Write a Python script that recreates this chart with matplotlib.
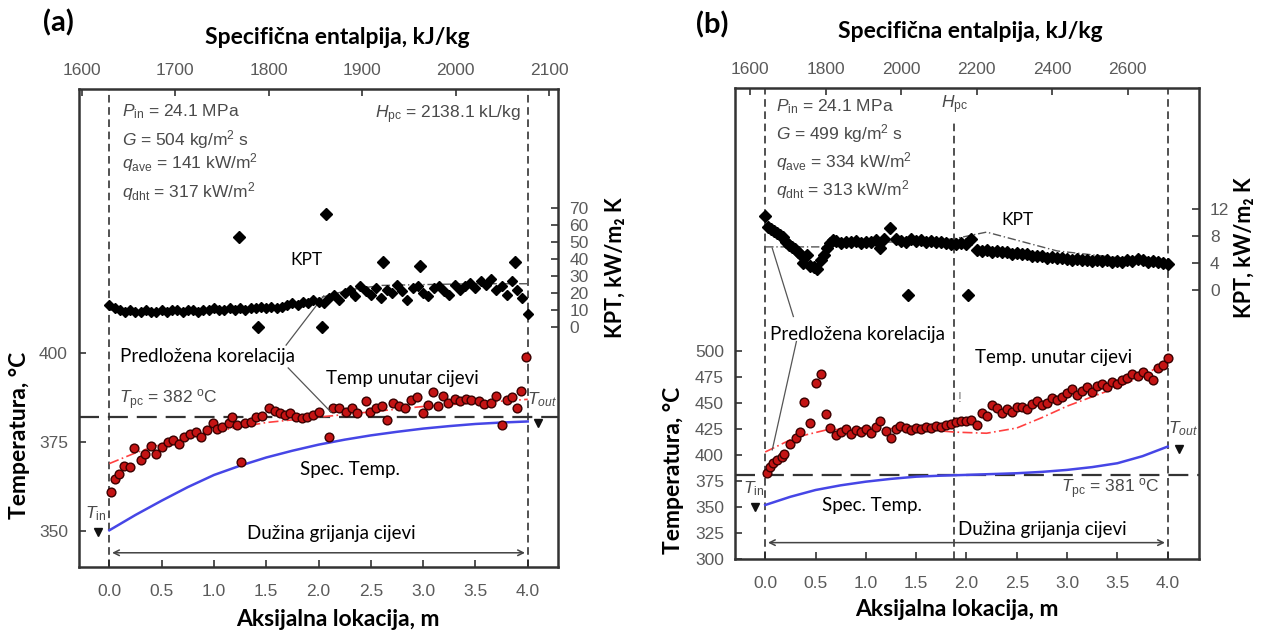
"""
Two-panel plot: wall temperature and KPT along the heated tube, (a) and (b).
"""

import numpy as np
import matplotlib.pyplot as plt

plt.rcParams['font.family'] = ['Liberation Sans', 'DejaVu Sans']
plt.rcParams['mathtext.fontset'] = 'custom'
plt.rcParams['mathtext.rm'] = 'Liberation Sans'
plt.rcParams['mathtext.it'] = 'Liberation Sans:italic'

CAL = ['Lato', 'DejaVu Sans']   # calibri-like labels
TICKC = '#5a5a5a'
PARC = '#4a4a4a'

# ---------------- panel (a) data ----------------
temp_a_x = [0.02, 0.05, 0.09, 0.14, 0.20, 0.24, 0.30, 0.34, 0.40, 0.45, 0.50, 0.56, 0.61,
            0.67, 0.71, 0.77, 0.83, 0.88, 0.93, 0.99, 1.03, 1.08, 1.14, 1.17, 1.22, 1.26,
            1.30, 1.35, 1.40, 1.46, 1.53, 1.58, 1.63, 1.68, 1.73, 1.78, 1.84, 1.89, 1.95,
            2.00, 2.10, 2.14, 2.20, 2.26, 2.32, 2.37, 2.45, 2.49, 2.55, 2.61, 2.65, 2.71,
            2.77, 2.83, 2.88, 2.94, 3.00, 3.05, 3.09, 3.14, 3.19, 3.24, 3.30, 3.35, 3.41,
            3.46, 3.53, 3.58, 3.65, 3.70, 3.75, 3.80, 3.85, 3.90, 3.94, 3.98]
temp_a = [361.0, 364.6, 366.2, 368.4, 368.0, 373.3, 370.0, 371.8, 374.0, 371.8, 373.7, 375.0,
          375.6, 374.6, 376.5, 377.4, 377.9, 376.5, 378.4, 380.4, 378.8, 379.3, 380.3, 382.1,
          379.8, 369.5, 380.3, 380.7, 382.1, 382.3, 384.5, 383.8, 383.1, 382.6, 383.1, 382.1,
          381.7, 382.1, 382.6, 383.5, 376.5, 384.5, 384.5, 383.5, 384.5, 383.1, 386.4, 383.5,
          384.5, 385.1, 381.2, 385.9, 385.1, 384.5, 386.8, 387.6, 383.1, 385.4, 389.0, 385.1,
          388.0, 385.9, 387.0, 386.4, 387.0, 386.8, 386.4, 385.7, 385.9, 387.8, 379.8, 386.8,
          387.6, 384.5, 389.2, 399.0]

kpt_a_x = list(np.round(np.arange(0, 4.001, 0.05), 2))
kpt_a = [13, 11, 10, 9, 10, 9, 9, 10, 9, 9, 10, 9, 10, 10, 9, 10, 10, 9, 10, 10, 11, 10, 10,
         11, 10, 11, 10, 11, 11, 12, 11,
         12, 11, 12, 13, 14, 13, 15, 14, 16, 15,
         14, 17, 19, 16, 20, 22, 18, 24, 21, 19,
         23, 17, 22, 20, 25, 21, 16, 23, 24, 20,
         18, 23, 24, 21, 19, 25, 22, 24, 26, 23,
         27, 25, 28, 22, 24, 19, 27, 22, 17, 8]
kpt_a_out_x = [1.24, 2.07, 2.62, 2.97, 3.88, 1.42, 2.03]
kpt_a_out = [53, 66.5, 38, 36, 38, 0, 0]

corr_a_x = [0, 0.25, 0.5, 1.0, 1.5, 2.0, 2.5, 3.0, 3.5, 4.0]
corr_a = [369, 372, 374.5, 378, 380.5, 382, 383.5, 385, 386, 387]
corr_kpt_a_x = [0, 0.5, 1.0, 1.5, 1.8, 2.0, 2.3, 2.6, 3.0, 3.5, 4.0]
corr_kpt_a = [10, 9.5, 10, 11, 13, 17, 22, 24.5, 25, 25.5, 25.5]

bulk_x = [0, 0.25, 0.5, 0.75, 1.0, 1.25, 1.5, 1.75, 2.0, 2.25, 2.5, 2.75, 3.0, 3.25,
          3.5, 3.75, 4.0]
bulk_a = [350.3, 354.6, 358.6, 362.4, 365.8, 368.4, 370.7, 372.6, 374.3, 375.7, 376.9,
          377.9, 378.8, 379.5, 380.1, 380.5, 380.8]

# ---------------- panel (b) data ----------------
temp_b_x = [0.02, 0.05, 0.08, 0.12, 0.17, 0.19, 0.25, 0.31, 0.35, 0.39, 0.45, 0.50, 0.55,
            0.60, 0.64, 0.70, 0.75, 0.80, 0.85, 0.90, 0.95, 1.00, 1.05, 1.10, 1.14, 1.20,
            1.25, 1.30, 1.34, 1.40, 1.45, 1.50, 1.55, 1.60, 1.65, 1.70, 1.75, 1.80, 1.85,
            1.90, 1.95, 2.00, 2.05, 2.10, 2.15, 2.20, 2.25, 2.30, 2.35, 2.40, 2.45, 2.50,
            2.55, 2.60, 2.65, 2.70, 2.75, 2.80, 2.85, 2.90, 2.95, 3.00, 3.05, 3.10, 3.15,
            3.20, 3.25, 3.30, 3.35, 3.40, 3.45, 3.50, 3.55, 3.60, 3.65, 3.70, 3.75, 3.80,
            3.85, 3.90, 3.95, 4.00]
temp_b = [382.6, 389, 392, 395.5, 398.5, 401, 411, 416, 422.5, 451, 430.5, 469, 478, 439,
          426, 419.5, 422.5, 425.5, 420, 424, 422, 425, 421, 427, 433, 423, 416, 425, 428,
          426, 424, 426, 425, 427, 426, 428, 427, 429, 430, 432, 433, 433, 434, 429, 440,
          438, 448, 445, 440, 444, 441, 446, 446, 444, 449, 452, 448, 450, 455, 453, 456,
          460, 463, 458, 462, 465, 461, 466, 468, 465, 470, 468, 472, 474, 478, 476, 480,
          476, 472, 484, 486, 493]

kpt_b_x = [0.00, 0.03, 0.06, 0.09, 0.12, 0.15, 0.18, 0.21, 0.24, 0.27, 0.30, 0.33, 0.36,
           0.38, 0.42, 0.45, 0.48, 0.51, 0.55, 0.58, 0.61, 0.64, 0.67,
           0.70, 0.75, 0.80, 0.85, 0.90, 0.95, 1.00, 1.05, 1.10, 1.14, 1.18, 1.24, 1.30,
           1.35, 1.40, 1.45, 1.50, 1.55, 1.60, 1.65, 1.70, 1.75, 1.80, 1.85,
           1.90, 1.95, 2.00, 2.05, 2.10, 2.15, 2.20, 2.25, 2.30, 2.35, 2.40, 2.45, 2.50,
           2.55, 2.60, 2.65, 2.70, 2.75, 2.80, 2.85, 2.90, 2.95, 3.00, 3.05, 3.10, 3.15,
           3.20, 3.25, 3.30, 3.35, 3.40, 3.45, 3.50, 3.55, 3.60, 3.65, 3.70, 3.75, 3.80,
           3.85, 3.90, 3.95, 4.00]
kpt_b = [11.0, 9.4, 9.0, 8.7, 8.4, 8.2, 7.8, 7.2, 6.7, 6.4, 6.1, 5.7, 5.2,
         4.0, 5.2, 3.6, 3.4, 3.1, 4.5, 5.2, 6.2, 7.0, 7.4,
         7.3, 7.0, 7.2, 7.1, 7.3, 7.0, 7.2, 7.1, 7.4, 6.3, 7.6, 9.2, 7.6,
         7.3, 7.2, 7.5, 7.3, 7.4, 7.2, 7.3, 7.1, 7.2, 7.0, 6.9,
         6.8, 7.0, 6.9, 7.5, 6.0, 5.8, 6.0, 5.7, 5.8, 5.6, 5.7, 5.4, 5.5,
         5.3, 5.4, 5.1, 5.0, 5.1, 4.8, 4.9, 4.7, 4.8, 4.6, 4.5, 4.6, 4.4,
         4.5, 4.3, 4.4, 4.3, 4.4, 4.2, 4.3, 4.2, 4.4, 4.3, 4.6, 4.4, 4.2,
         4.3, 4.1, 4.0, 3.9]
kpt_b_out_x = [1.42, 2.02]
kpt_b_out = [-0.7, -0.7]

corr_b_x = [0, 0.3, 0.6, 1.0, 1.5, 1.9, 2.2, 2.5, 2.75, 3.0, 3.25, 3.5, 3.75, 4.0]
corr_b = [403, 417, 424, 426, 425, 422, 421, 426, 436, 447, 456, 465, 476, 490]
corr_kpt_b_x = [0, 0.6, 0.8, 1.5, 1.875, 2.2, 2.9, 3.5, 4.0]
corr_kpt_b = [6.4, 6.4, 7.0, 7.2, 7.6, 8.6, 5.8, 4.8, 4.3]

bulk_b = [352.1, 360.0, 366.5, 371.0, 374.5, 377.2, 379.3, 380.3, 381.0, 381.8, 382.6,
          383.9, 385.8, 388.5, 392.2, 399.0, 408.2]

x_ticks = [0.0, 0.5, 1.0, 1.5, 2.0, 2.5, 3.0, 3.5, 4.0]


def setup_axes(ax, xlim, ylim, yticks):
    ax.set_xlim(*xlim)
    ax.set_ylim(*ylim)
    ax.set_xticks(x_ticks)
    ax.set_xticklabels([f"{t:.1f}" for t in x_ticks])
    ax.set_yticks(yticks)
    ax.tick_params(direction='in', length=5, width=1.2, labelsize=12.5,
                   labelcolor=TICKC, color='#333333')
    ax.tick_params(axis='x', pad=12)
    ax.tick_params(axis='y', pad=8)
    for s in ax.spines.values():
        s.set_linewidth(1.8)
        s.set_color('#333333')


def kpt_axis(ax, ylim, yticks):
    axk = ax.twinx()
    axk.set_ylim(*ylim)
    axk.set_yticks(yticks)
    axk.tick_params(direction='in', length=5, width=1.2, labelsize=12.5,
                    labelcolor=TICKC, color='#333333', pad=8)
    for s in axk.spines.values():
        s.set_visible(False)
    return axk


def top_axis(ax, h0, k, ticks):
    sec = ax.secondary_xaxis('top', functions=(lambda m: h0 + k * m,
                                                 lambda h: (h - h0) / k))
    sec.set_xticks(ticks)
    sec.tick_params(direction='in', length=5, width=1.2, labelsize=12.5,
                    labelcolor=TICKC, color='#333333', pad=8)
    sec.spines['top'].set_visible(False)
    return sec


def label(x, y, txt, size=16.5, rot=0):
    fig.text(x / 1264, 1 - y / 635, txt, family=CAL, fontsize=size, fontweight='bold',
             ha='center', va='center', rotation=rot)


fig = plt.figure(figsize=(12.64, 6.35), dpi=100)

# ======================= (a) =======================
ax = fig.add_axes([0.0625, 0.107, 0.379, 0.753])
setup_axes(ax, (-0.29, 4.29), (340, 474), [350, 375, 400])
axk = kpt_axis(ax, (-141, 140), list(range(0, 71, 10)))
top_axis(ax, 1629.7, 111.8, [1600, 1700, 1800, 1900, 2000, 2100])

for xv in [0, 4]:
    ax.axvline(xv, color='#222222', ls=(0, (5, 3)), lw=1.1)
ax.axhline(382, color='#333333', ls=(0, (9, 4)), lw=1.6)

ax.plot(bulk_x, bulk_a, color='#4646e6', lw=1.8)
ax.plot(corr_a_x, corr_a, color='#ff4040', lw=1.2, ls=(0, (6, 2, 1, 2)))
ax.plot(temp_a_x, temp_a, 'o', ms=6.3, mfc='#c41414', mec='#3a0000', mew=1.0)
ax.plot([-0.11], [349.7], 'v', ms=6, color='#111111')
ax.plot([4.1], [380.5], 'v', ms=6, color='#111111')

axk.plot(corr_kpt_a_x, corr_kpt_a, color='#555555', lw=1.0, ls=(0, (6, 2, 1, 2)))
axk.plot(kpt_a_x, kpt_a, 'D', ms=5.5, color='black')
axk.plot(kpt_a_out_x, kpt_a_out, 'D', ms=6.5, color='black')

ax.plot([1.69, 2.05], [402.2, 416.0], color='#555555', lw=0.9)
ax.plot([1.71, 2.12], [395.8, 383.4], color='#555555', lw=0.9)
ax.annotate('', xy=(4.0, 344), xytext=(0.0, 344),
            arrowprops=dict(arrowstyle='<->', color='#444444', lw=1.1))

ax.text(0.1, 399, 'Predložena korelacija', family=CAL, fontsize=13.5, va='center')
ax.text(2.8, 392.8, 'Temp unutar cijevi', family=CAL, fontsize=13.5, ha='center', va='center')
ax.text(2.3, 367.2, 'Spec. Temp.', family=CAL, fontsize=13.5, ha='center', va='center')
ax.text(2.12, 349.4, 'Dužina grijanja cijevi', family=CAL, fontsize=13.5,
        ha='center', va='center')
ax.text(0.09, 387, r'$T_{\rm pc}$ = 382 $^{\rm o}$C', fontsize=12.5, color=PARC, va='center')
ax.text(-0.13, 355, r'$T_{\rm in}$', fontsize=12.5, color=PARC, ha='center', va='center')
ax.text(4.14, 387, r'$T_{out}$', fontsize=12.5, color=PARC, ha='center', va='center')
axk.text(1.88, 39.4, 'KPT', family=CAL, fontsize=12.5, ha='center', va='center')

params_a = [r'$P_{\rm in}$ = 24.1 MPa', r'$G$ = 504 kg/m$^2$ s',
            r'$q_{\rm ave}$ = 141 kW/m$^2$', r'$q_{\rm dht}$ = 317 kW/m$^2$']
for txt, yv in zip(params_a, [467.7, 459.8, 453.4, 445.2]):
    ax.text(0.125, yv, txt, fontsize=12.5, color=PARC, va='center')
ax.text(3.94, 466.9, r'$H_{\rm pc}$ = 2138.1 kL/kg', fontsize=12.5, color=PARC,
        ha='right', va='center')

label(338, 620, 'Aksijalna lokacija, m')
label(20, 435, 'Temperatura, °C', rot=90)
label(615, 268, 'KPT, kW/m₂ K', size=15.5, rot=90)

# ======================= (b) =======================
ax = fig.add_axes([0.5815, 0.1192, 0.367, 0.7417])
setup_axes(ax, (-0.30, 4.31), (300, 752), list(range(300, 501, 25)))
axk = kpt_axis(ax, (-40.1, 30), [0, 4, 8, 12])
top_axis(ax, 1640.2, 266.4, [1600, 1800, 2000, 2200, 2400, 2600])

for xv in [0, 4]:
    ax.axvline(xv, color='#222222', ls=(0, (5, 3)), lw=1.1)
ax.vlines(1.875, 300, 720, color='#222222', ls=(0, (5, 3)), lw=1.1)
ax.axhline(381, color='#333333', ls=(0, (9, 4)), lw=1.6)

ax.plot(bulk_x, bulk_b, color='#4646e6', lw=1.8)
ax.plot(corr_b_x, corr_b, color='#ff4040', lw=1.2, ls=(0, (6, 2, 1, 2)))
ax.plot(temp_b_x, temp_b, 'o', ms=6.3, mfc='#c41414', mec='#3a0000', mew=1.0)
ax.plot([-0.1], [350], 'v', ms=6, color='#111111')
ax.plot([4.11], [406], 'v', ms=6, color='#111111')

axk.plot(corr_kpt_b_x, corr_kpt_b, color='#555555', lw=1.0, ls=(0, (6, 2, 1, 2)))
axk.plot(kpt_b_x, kpt_b, 'D', ms=5.8, color='black')
axk.plot(kpt_b_out_x, kpt_b_out, 'D', ms=6, color='black')

ax.plot([0.28, 0.07], [533, 598.6], color='#555555', lw=0.9)
ax.plot([0.31, 0.07], [509, 405], color='#555555', lw=0.9)
ax.annotate('', xy=(4.0, 316), xytext=(0.0, 316),
            arrowprops=dict(arrowstyle='<->', color='#444444', lw=1.1))

ax.text(0.05, 515.3, 'Predložena korelacija', family=CAL, fontsize=13.5, va='center')
ax.text(2.87, 494, 'Temp. unutar cijevi', family=CAL, fontsize=13.5, ha='center', va='center')
ax.text(1.06, 352, 'Spec. Temp.', family=CAL, fontsize=13.5, ha='center', va='center')
ax.text(2.75, 328.8, 'Dužina grijanja cijevi', family=CAL, fontsize=13.5,
        ha='center', va='center')
ax.text(3.92, 368, r'$T_{\rm pc}$ = 381 $^{\rm o}$C', fontsize=12.5, color=PARC,
        ha='right', va='center')
ax.text(-0.11, 368, r'$T_{\rm in}$', fontsize=12.5, color=PARC, ha='center', va='center')
ax.text(4.15, 425.8, r'$T_{out}$', fontsize=12.5, color=PARC, ha='center', va='center')
ax.text(1.88, 736, r'$H_{\rm pc}$', fontsize=12.5, color=PARC, ha='center', va='center')
ax.text(1.93, 455, '!', fontsize=10, color='#777777', ha='center', va='center')
axk.text(2.51, 10.4, 'KPT', family=CAL, fontsize=12.5, ha='center', va='center')

params_b = [r'$P_{\rm in}$ = 24.1 MPa', r'$G$ = 499 kg/m$^2$ s',
            r'$q_{\rm ave}$ = 334 kW/m$^2$', r'$q_{\rm dht}$ = 313 kW/m$^2$']
for txt, yv in zip(params_b, [734.5, 709, 681.7, 654.5]):
    ax.text(0.11, yv, txt, fontsize=12.5, color=PARC, va='center')

label(957, 610, 'Aksijalna lokacija, m')
label(674, 470, 'Temperatura, °C', rot=90)
label(1244, 248, 'KPT, kW/m₂ K', size=15.5, rot=90)

# panel letters and top titles
fig.text(0.034, 0.964, '(a)', family=CAL, fontsize=21, fontweight='bold', va='center')
fig.text(0.5506, 0.961, '(b)', family=CAL, fontsize=21, fontweight='bold', va='center')
label(337, 38, 'Specifična entalpija, kJ/kg')
label(970, 32, 'Specifična entalpija, kJ/kg')

plt.savefig('out.png', dpi=100)
